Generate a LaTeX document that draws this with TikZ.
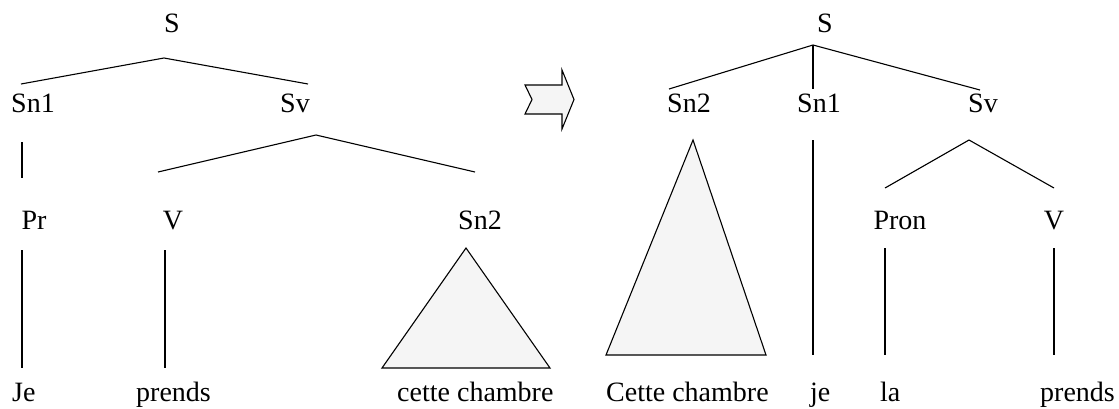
\documentclass[tikz,border=0pt]{standalone}
\usepackage{fontspec}
\setmainfont{Liberation Serif}
\newfontfamily\treefont{Liberation Serif}
\begin{document}
\begin{tikzpicture}[x=1pt,y=-1pt,
  lbl/.style={font=\treefont\fontsize{28}{32}\selectfont, inner sep=0pt, anchor=base},
  word/.style={font=\treefont\fontsize{28}{32}\selectfont, inner sep=0pt, anchor=base west},
  edge/.style={line width=1.1pt},
  tri/.style={draw, line width=1.1pt, fill=black!4, line join=miter},
  bigarrow/.style={draw, line width=1.1pt, fill=black!4, line join=miter}]
\useasboundingbox (0,0) rectangle (1119,408);
% ---------- left tree ----------
\node[lbl] (lS) at (172,32) {S};
\node[lbl] (lSnA) at (33,112) {Sn1};
\node[lbl] (lSv) at (295,112) {Sv};
\node[lbl] (lPr) at (34,229) {Pr};
\node[lbl] (lV) at (173,229) {V};
\node[lbl] (lSnB) at (480,229) {Sn2};
\node[word] (lJe) at (12,401) {Je};
\node[word] (lprends) at (136,401) {prends};
\node[word] (lcette) at (397,401) {cette chambre};
\coordinate (lAp) at (164,58);
\coordinate (lAl) at (21,84);
\coordinate (lAr) at (308,84);
\draw[edge] (lAl) -- (lAp) -- (lAr);
\coordinate (lSnAt) at (22,142);
\coordinate (lSnAb) at (22,178);
\draw[edge] (lSnAt) -- (lSnAb);
\coordinate (lSvp) at (316,135);
\coordinate (lSvl) at (158,172);
\coordinate (lSvr) at (475,172);
\draw[edge] (lSvl) -- (lSvp) -- (lSvr);
\coordinate (lPrt) at (22,250);
\coordinate (lPrb) at (22,368);
\draw[edge] (lPrt) -- (lPrb);
\coordinate (lVt) at (165,250);
\coordinate (lVb) at (165,368);
\draw[edge] (lVt) -- (lVb);
\coordinate (lTa) at (466,248);
\coordinate (lTl) at (382,368);
\coordinate (lTr) at (550,368);
\draw[tri] (lTa) -- (lTl) -- (lTr) -- cycle;
% ---------- arrow ----------
\draw[bigarrow] (525,85) -- (562,85) -- (562,70) -- (574,99.5) -- (562,129) -- (562,114) -- (525,114) -- (532,99.5) -- cycle;
% ---------- right tree ----------
\node[lbl] (rS) at (825,32) {S};
\node[lbl] (rSnB) at (689,112) {Sn2};
\node[lbl] (rSnA) at (819,112) {Sn1};
\node[lbl] (rSv) at (983,112) {Sv};
\node[lbl] (rPron) at (900,229) {Pron};
\node[lbl] (rV) at (1054,229) {V};
\node[word] (rCette) at (606,401) {Cette chambre};
\node[word] (rje) at (810,401) {je};
\node[word] (rla) at (880,401) {la};
\node[word] (rprends) at (1040,401) {prends};
\coordinate (rAp) at (813,45);
\coordinate (rAl) at (669,89);
\coordinate (rAm) at (813,89);
\coordinate (rAr) at (980,90);
\draw[edge] (rAl) -- (rAp) -- (rAr);
\draw[edge] (rAp) -- (rAm);
\coordinate (rTa) at (693,140);
\coordinate (rTl) at (606,355);
\coordinate (rTr) at (766,355);
\draw[tri] (rTa) -- (rTl) -- (rTr) -- cycle;
\coordinate (rSnAt) at (813,140);
\coordinate (rSnAb) at (813,355);
\draw[edge] (rSnAt) -- (rSnAb);
\coordinate (rSvp) at (969,140);
\coordinate (rSvl) at (885,188);
\coordinate (rSvr) at (1054,188);
\draw[edge] (rSvl) -- (rSvp) -- (rSvr);
\coordinate (rPrt) at (885,248);
\coordinate (rPrb) at (885,355);
\draw[edge] (rPrt) -- (rPrb);
\coordinate (rVt) at (1054,248);
\coordinate (rVb) at (1054,355);
\draw[edge] (rVt) -- (rVb);
\end{tikzpicture}
\end{document}
